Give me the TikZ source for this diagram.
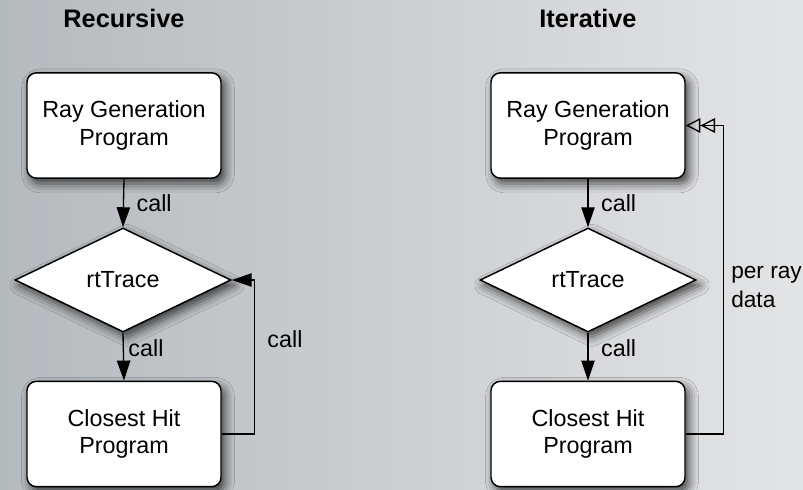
\documentclass[tikz,border=0pt]{standalone}
\usepackage{fontspec}
\setmainfont{Liberation Sans}
\usetikzlibrary{shapes.geometric,arrows.meta,shadows.blur}

\definecolor{bgleft}{RGB}{181,186,190}
\definecolor{bgright}{RGB}{227,228,230}

\tikzset{
  txt/.style={font=\fontsize{17.5}{20.5}\selectfont},
  head/.style={font=\fontsize{19}{22}\selectfont\bfseries},
  prog/.style={txt, draw, line width=1.1pt, fill=white, rounded corners=7pt,
    minimum width=145.5pt, minimum height=79pt, align=center,
    blur shadow={shadow xshift=3pt, shadow yshift=-4pt, shadow blur radius=7pt, shadow opacity=70}},
  test/.style={txt, diamond, draw, line width=1.1pt, fill=white, inner sep=0pt,
    minimum width=162pt, minimum height=78pt,
    blur shadow={shadow xshift=3pt, shadow yshift=-4pt, shadow blur radius=7pt, shadow opacity=70}},
  flow/.style={line width=1pt, -{Triangle[length=15pt,width=10pt]}},
  back/.style={line width=1pt, -{Triangle[open,length=11pt,width=11pt]Triangle[open,length=11pt,width=11pt]}}
}

\begin{document}
\begin{tikzpicture}[x=0.75pt,y=0.75pt,yscale=-1]
%background
\useasboundingbox (0,0) rectangle (803,489);
\shade[left color=bgleft, right color=bgright] (0,0) rectangle (803,489);

%Recursive
\node[head] (titleL) at (124,18) {Recursive};
\node[prog] (genL) at (124,125.5) {Ray Generation\\Program};
\node[test] (traceL) at (123,280) {rtTrace};
\node[prog] (hitL) at (124,434) {Closest Hit\\Program};

\draw[flow] (genL.south) -- node[txt, right, xshift=6pt] {call} (traceL.north);
\draw[flow] (traceL.south) -- node[txt, right, pos=0.32] {call} (hitL.north);
\draw[flow] (hitL.east) -- ++(33,0) |- (traceL.east);
\node[txt] (callL) at (285,339) {call};

%Iterative
\node[head] (titleR) at (588,18) {Iterative};
\node[prog] (genR) at (588,125.5) {Ray Generation\\Program};
\node[test] (traceR) at (588,280) {rtTrace};
\node[prog] (hitR) at (588,434) {Closest Hit\\Program};

\draw[flow] (genR.south) -- node[txt, right, xshift=6pt] {call} (traceR.north);
\draw[flow] (traceR.south) -- node[txt, right, xshift=6pt, pos=0.32] {call} (hitR.north);
\draw[back] (hitR.east) -- ++(38,0) |- (genR.east);
\node[txt, font=\fontsize{17}{21.5}\selectfont, anchor=west, align=left, inner sep=0pt] (perray) at (731,287) {per ray\\data};

\end{tikzpicture}
\end{document}
